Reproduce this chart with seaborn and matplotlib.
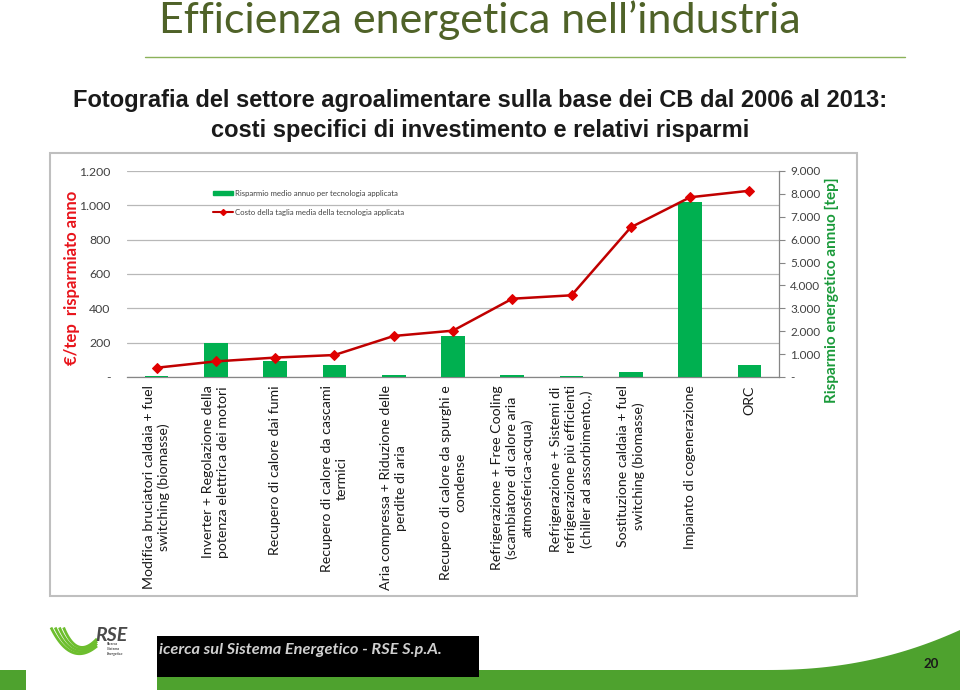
import numpy as np
import pandas as pd
import matplotlib
matplotlib.use("Agg")
import matplotlib.pyplot as plt
import seaborn as sns
from matplotlib.patches import Rectangle, Polygon
from matplotlib.lines import Line2D
from matplotlib.ticker import FuncFormatter, FixedLocator

# ---------------- data ----------------
categories = [
    "Modifica bruciatori caldaia + fuel\nswitching (biomasse)",
    "Inverter + Regolazione della\npotenza elettrica dei motori",
    "Recupero di calore dai fumi",
    "Recupero di calore da cascami\ntermici",
    "Aria compressa + Riduzione delle\nperdite di aria",
    "Recupero di calore da spurghi e\ncondense",
    "Refrigerazione + Free Cooling\n(scambiatore di calore aria\natmosferica-acqua)",
    "Refrigerazione + Sistemi di\nrefrigerazione più efficienti\n(chiller ad assorbimento,.)",
    "Sostituzione caldaia + fuel\nswitching (biomasse)",
    "Impianto di cogenerazione",
    "ORC",
]
savings_tep = [60, 1485, 685, 510, 100, 1805, 90, 60, 200, 7640, 540]
cost_eur_per_tep = [54, 91, 113, 128, 239, 270, 456, 476, 872, 1047, 1085]
left_ticks = [0, 200, 400, 600, 800, 1000, 1200]
right_ticks = [0, 1000, 2000, 3000, 4000, 5000, 6000, 7000, 8000, 9000]

legend_bar = "Risparmio medio annuo per tecnologia applicata"
legend_line = "Costo della taglia media della tecnologia applicata"
left_label = "€/tep  risparmiato anno"
right_label = "Risparmio energetico annuo [tep]"
title = "Efficienza energetica nell\u2019industria"
subtitle1 = "Fotografia del settore agroalimentare sulla base dei CB dal 2006 al 2013:"
subtitle2 = "costi specifici di investimento e relativi risparmi"
footer_text = "icerca sul Sistema Energetico - RSE S.p.A."
page_no = "20"

# ---------------- style ----------------
sns.set_style("white")
plt.rcParams['font.family'] = ['Lato', 'DejaVu Sans']

BAR_GREEN = "#00B050"
LINE_RED = "#C00000"
MARK_RED = "#E00000"
TITLE_GREEN = "#4F6228"
BAND_GREEN = "#4EA22E"
LOGO_GREEN = "#6DBE2E"

W, H = 960, 690
fig = plt.figure(figsize=(9.6, 6.9), dpi=100)

def fx(px):
    return px / W

def fy(py):
    return 1 - py / H

# chart frame
fig.patches.append(Rectangle((fx(50), fy(596)), fx(857) - fx(50), fy(153) - fy(596),
                             transform=fig.transFigure, fill=False, ec="#BFBFBF", lw=1.5))

# axes
ax = fig.add_axes([fx(127), fy(377), fx(779) - fx(127), fy(171) - fy(377)])
axB = ax.twinx()
axL = ax.twinx()
ax.set_zorder(1)
axB.set_zorder(2)
axL.set_zorder(3)
axB.patch.set_visible(False)
axL.patch.set_visible(False)

df = pd.DataFrame({"cat": categories, "tep": savings_tep, "cost": cost_eur_per_tep})
df["pos"] = np.arange(len(df))

sns.barplot(data=df, x="cat", y="tep", ax=axB, color=BAR_GREEN, width=0.4,
            saturation=1, edgecolor="none", zorder=2)
sns.lineplot(data=df, x="pos", y="cost", ax=axL, color=LINE_RED, lw=1.8,
             marker="D", markersize=5, markerfacecolor=MARK_RED,
             markeredgecolor=MARK_RED)

fmt = FuncFormatter(lambda v, p: "-" if v == 0 else f"{int(round(v)):,}".replace(",", "."))

# left axis (grid + ticks)
ax.set_ylim(0, 1200)
ax.yaxis.set_major_locator(FixedLocator(left_ticks))
ax.yaxis.set_major_formatter(fmt)
ax.yaxis.grid(True, color="#B8B8B8", lw=0.9)
ax.set_axisbelow(True)
ax.tick_params(axis="y", length=0, pad=12, labelsize=8.8, labelcolor="#404040")
ax.set_ylabel(left_label, color="#E8141B", fontweight="bold", fontsize=12)
ax.yaxis.set_label_coords(-0.072, 0.48)

# right axis (bars)
axB.set_ylim(0, 9000)
axB.yaxis.set_major_locator(FixedLocator(right_ticks))
axB.yaxis.set_major_formatter(fmt)
axB.tick_params(axis="y", length=4, width=0.8, color="#868686", pad=4,
                labelsize=8.5, labelcolor="#404040")
axB.set_ylabel(right_label, color="#1A9A3A", fontweight="bold", fontsize=11,
               rotation=90)
axB.yaxis.set_label_coords(1.07, 0.42)
axB.set_xlabel("")

# line axis
axL.set_ylim(0, 1200)
axL.set_yticks([])
axL.set_ylabel("")
axL.set_xlabel("")

for a in (ax, axB, axL):
    for s in ("top", "left", "right", "bottom"):
        a.spines[s].set_visible(False)
axB.spines["right"].set_visible(True)
axB.spines["right"].set_color("#868686")
axB.spines["right"].set_linewidth(0.9)
ax.spines["bottom"].set_visible(True)
ax.spines["bottom"].set_color("#868686")
ax.spines["bottom"].set_linewidth(0.9)

n = len(categories)
ax.set_xlim(-0.5, n - 0.5)
ax.set_xticks(np.arange(n))
ax.set_xticks(np.arange(n + 1) - 0.5, minor=True)
ax.set_xticklabels(categories, rotation=90, va="top", ha="center",
                   multialignment="center", fontsize=10.2, color="#1a1a1a",
                   linespacing=1.3)
ax.tick_params(axis="x", which="major", length=0, pad=6)
ax.tick_params(axis="x", which="minor", length=5, width=0.8, color="#868686")
ax.set_xlabel("")

# legend
handles = [Rectangle((0, 0), 1, 1, color=BAR_GREEN),
           Line2D([0], [0], color=LINE_RED, lw=1.5, marker="D", markersize=3,
                  markerfacecolor=MARK_RED, markeredgecolor=MARK_RED)]
axL.legend(handles, [legend_bar, legend_line], loc="upper left",
           bbox_to_anchor=(fx(206), fy(183)), bbox_transform=fig.transFigure,
           frameon=False, fontsize=5.6, handlelength=2.6, handleheight=0.45,
           labelspacing=1.5, handletextpad=0.2, labelcolor="#404040")

# ---------------- slide decorations ----------------
fig.text(0.5, fy(32.5), title, ha="center", va="baseline", fontsize=31,
         color=TITLE_GREEN, family="Lato")
fig.add_artist(Line2D([fx(145), fx(905)], [fy(57), fy(57)], color="#8BB25A", lw=1.0,
                      transform=fig.transFigure))
fig.text(0.5, fy(101), subtitle1, ha="center", va="center", fontsize=17,
         fontweight="bold", family="Liberation Sans", color="#1a1a1a")
fig.text(0.5, fy(130), subtitle2, ha="center", va="center", fontsize=17,
         fontweight="bold", family="Liberation Sans", color="#1a1a1a")

# footer green band with curve
xs = np.linspace(767, 960, 40)
ys = 670 - 40 * ((xs - 767) / 193) ** 2.2
pts = [(fx(0), fy(690)), (fx(0), fy(670))] + [(fx(x), fy(y)) for x, y in zip(xs, ys)] + [(fx(960), fy(690))]
fig.patches.append(Polygon(pts, closed=True, transform=fig.transFigure, fc=BAND_GREEN, ec="none"))
fig.patches.append(Rectangle((fx(26), fy(690)), fx(157) - fx(26), fy(660) - fy(690),
                             transform=fig.transFigure, fc="white", ec="none"))
fig.patches.append(Rectangle((fx(157), fy(677)), fx(479) - fx(157), fy(636) - fy(677),
                             transform=fig.transFigure, fc="black", ec="none"))
fig.text(fx(159), fy(650), footer_text, ha="left", va="center", fontsize=11.8,
         fontweight="bold", style="italic", color="#D0D0D0")
fig.text(fx(931), fy(664), page_no, ha="center", va="center", fontsize=9.5,
         fontweight="bold", color="#1a1a1a")

# logo (pixel coordinates inside a small axes)
lax = fig.add_axes([fx(40), fy(670), fx(140) - fx(40), fy(620) - fy(670)])
lax.set_xlim(40, 140)
lax.set_ylim(670, 620)
lax.axis("off")
t = np.linspace(0, 1, 60)
for k in range(4):
    p0 = np.array([51 + 4.2 * k, 627.5])
    p1 = np.array([71 + 2.0 * k, 668 - 2.5 * k])
    p2 = np.array([97, 646 - 2.4 * k])
    pts_ = ((1 - t) ** 2)[:, None] * p0 + (2 * (1 - t) * t)[:, None] * p1 + (t ** 2)[:, None] * p2
    lax.plot(pts_[:, 0], pts_[:, 1], color=LOGO_GREEN, lw=2.0, solid_capstyle="butt")
lax.text(95, 635, "RSE", fontsize=14, fontweight="bold", style="italic",
         color="#4A4A4A", ha="left", va="center")
lax.text(107, 649, "Ricerca\nSistema\nEnergetico", fontsize=2.6, color="#4A4A4A",
         ha="left", va="center", linespacing=1.3, style="italic", fontweight="bold")

fig.savefig("out.png", dpi=100)
